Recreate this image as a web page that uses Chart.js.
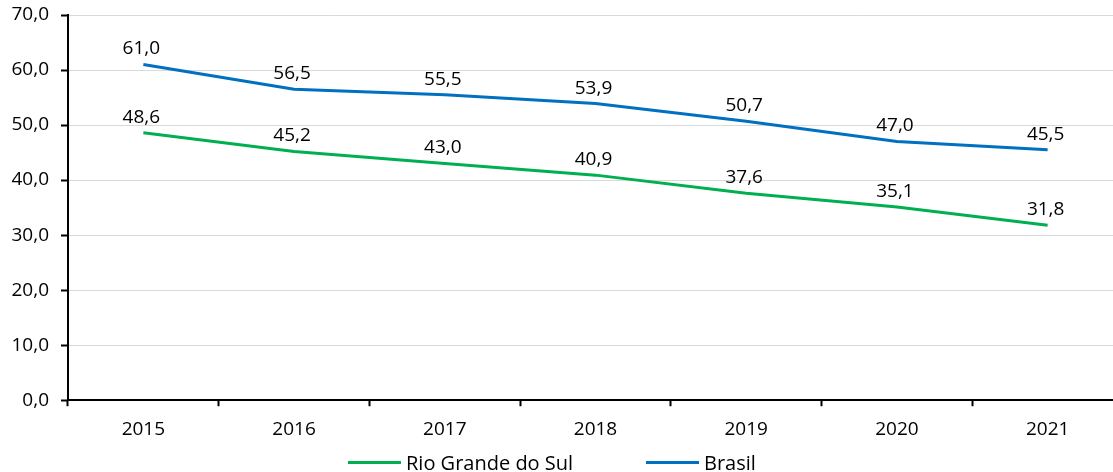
<!DOCTYPE html>
<html>
<head>
<meta charset="utf-8">
<script src="https://cdn.jsdelivr.net/npm/chart.js@4.4.0/dist/chart.umd.min.js"></script>
<style>
  html, body { margin: 0; padding: 0; background: #fff; overflow: hidden; }
  #wrap { width: 1123px; height: 472px; position: relative; }
  .item { position: absolute; top: 449px; display: flex; align-items: center;
          font: 20px 'Open Sans', 'Noto Sans', sans-serif; color: #000; white-space: nowrap; }
  .swatch { width: 53px; height: 3px; margin-right: 5px; }
</style>
</head>
<body>
<div id="wrap">
  <canvas id="chart"></canvas>
  <div class="item" style="left:348px"><span class="swatch" style="background:#00B050"></span>Rio Grande do Sul</div>
  <div class="item" style="left:646px"><span class="swatch" style="background:#0070C0"></span>Brasil</div>
</div>
<script>
const years = ['2015', '2016', '2017', '2018', '2019', '2020', '2021'];
const rioGrandeDoSul = [48.6, 45.2, 43.0, 40.9, 37.6, 35.1, 31.8];
const brasil = [61.0, 56.5, 55.5, 53.9, 50.7, 47.0, 45.5];
const yMin = 0, yMax = 70, yStep = 10;

const fontFamily = "'Open Sans', 'Noto Sans', sans-serif";
const fmt = v => Number(v).toFixed(1).replace('.', ',');

// rótulos de dados acima de cada ponto
const pointLabels = {
    id: 'pointLabels',
    afterDatasetsDraw(chart) {
        const ctx = chart.ctx;
        ctx.save();
        ctx.font = '19px ' + fontFamily;
        ctx.fillStyle = '#000';
        ctx.textAlign = 'center';
        ctx.textBaseline = 'bottom';
        chart.data.datasets.forEach((ds, i) => {
            chart.getDatasetMeta(i).data.forEach((pt, j) => {
                ctx.fillText(fmt(ds.data[j]), pt.x - 2, pt.y - 6);
            });
        });
        ctx.restore();
    }
};

new Chart(document.getElementById('chart'), {
    type: 'line',
    data: {
        labels: years,
        datasets: [{
            label: 'Rio Grande do Sul',
            data: rioGrandeDoSul,
            borderColor: '#00B050',
            backgroundColor: '#00B050',
            borderWidth: 3,
            pointRadius: 0,
            tension: 0
        }, {
            label: 'Brasil',
            data: brasil,
            borderColor: '#0070C0',
            backgroundColor: '#0070C0',
            borderWidth: 3,
            pointRadius: 0,
            tension: 0
        }]
    },
    options: {
        responsive: true,
        maintainAspectRatio: false,
        animation: false,
        layout: { padding: { top: 15, left: 0, right: 0, bottom: 19 } },
        scales: {
            x: {
                offset: true,
                grid: {
                    offset: true,
                    drawOnChartArea: false,
                    drawTicks: true,
                    tickLength: 6,
                    tickColor: '#000',
                    tickWidth: 2
                },
                border: { color: '#000', width: 2 },
                ticks: { color: '#000', font: { size: 19, family: fontFamily }, padding: 12 }
            },
            y: {
                min: yMin,
                max: yMax,
                afterFit: s => { s.width = 68; s.paddingTop = 0; s.paddingBottom = 0; },
                grid: {
                    color: '#d9d9d9',
                    lineWidth: 1,
                    tickLength: 7,
                    tickColor: '#000',
                    tickWidth: 2
                },
                border: { color: '#000', width: 2 },
                ticks: {
                    stepSize: yStep,
                    color: '#000',
                    padding: 12,
                    font: { size: 19, family: fontFamily },
                    callback: v => fmt(v)
                }
            }
        },
        plugins: {
            legend: { display: false },
            tooltip: { enabled: false }
        }
    },
    plugins: [pointLabels]
});
</script>
</body>
</html>
